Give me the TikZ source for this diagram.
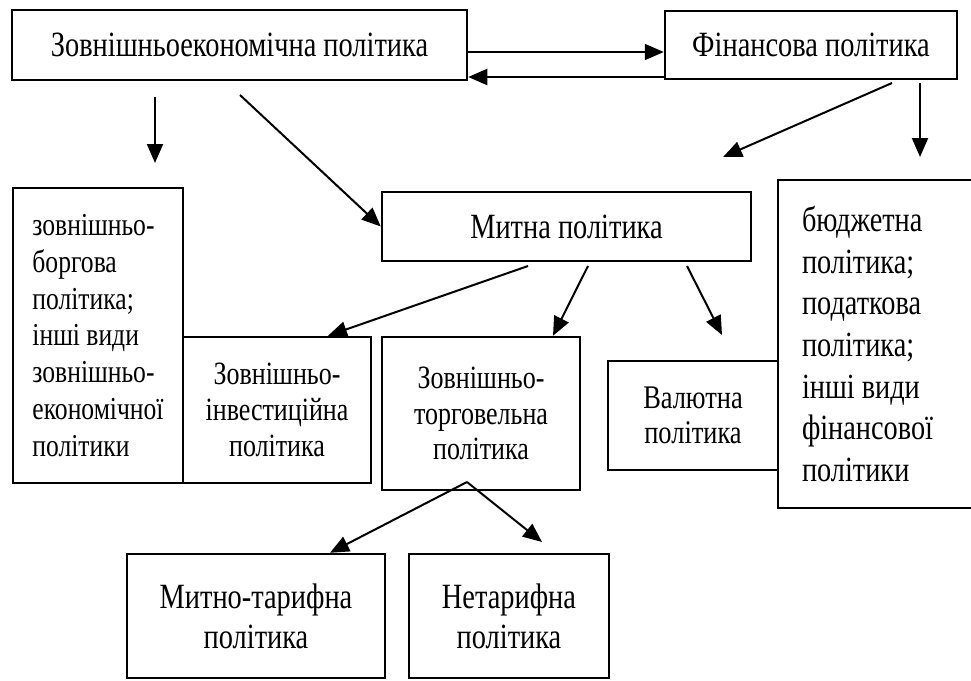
\documentclass[tikz,border=0pt]{standalone}
\usepackage{fontspec}
\setmainfont{Liberation Serif}[FakeStretch=0.8]
\usetikzlibrary{arrows.meta}
\tikzset{
  box/.style={draw, line width=2.5pt, rectangle, inner sep=0pt, align=center},
  arr/.style={line width=2pt, -{Triangle[length=19pt,width=16pt]}},
  bigf/.style={font=\fontsize{35.5}{41.7}\selectfont},
  midf/.style={font=\fontsize{32.5}{35.8}\selectfont},
  valf/.style={font=\fontsize{33}{35.5}\selectfont},
  sidef/.style={font=\fontsize{32}{36.7}\selectfont},
  rightf/.style={font=\fontsize{35.4}{41.7}\selectfont},
  botf/.style={font=\fontsize{35.5}{40}\selectfont},
}
\begin{document}
\begin{tikzpicture}[x=1pt,y=-1pt]
\useasboundingbox (0,0) rectangle (971,680);
% boxes
\node[box, bigf, minimum width=455pt, minimum height=70pt] (zep) at (239.5,45) {Зовнішньоекономічна політика};
\node[box, bigf, minimum width=292pt, minimum height=68pt] (fin) at (811,45) {Фінансова політика};
\node[box, bigf, minimum width=369pt, minimum height=69pt] (mytna) at (566.5,226.5) {Митна політика};
\node[box, sidef, align=left, minimum width=170pt, minimum height=295pt] (left) at (98,335.5) {зовнішньо-\\боргова\\політика;\\інші види\\зовнішньо-\\економічної\\політики};
\node[box, midf, minimum width=188pt, minimum height=146pt] (inv) at (277,410) {Зовнішньо-\\інвестиційна\\політика};
\node[box, midf, minimum width=198pt, minimum height=153pt] (torg) at (481,413.5) {Зовнішньо-\\торговельна\\політика};
\node[box, valf, minimum width=170pt, minimum height=109pt] (val) at (693,415.5) {Валютна\\політика};
\node[box, rightf, align=flush left, text width=152pt, inner xsep=24pt, minimum height=328pt] (right) at (878,344) {бюджетна\\політика;\\податкова\\політика;\\інші види\\фінансової\\політики};
\node[box, botf, minimum width=258pt, minimum height=124pt] (mt) at (256,616) {Митно-тарифна\\політика};
\node[box, botf, minimum width=200pt, minimum height=124pt] (nt) at (509,616) {Нетарифна\\політика};
% free ends
\coordinate (zd1) at (155,97);
\coordinate (zd2) at (155,163);
\coordinate (zm1) at (240,95);
\coordinate (fa1) at (892,83);
\coordinate (fa2) at (723,157);
\coordinate (fb1) at (920,83);
\coordinate (fb2) at (920,157);
\coordinate (m1) at (528,266);
\coordinate (m2) at (588,266);
\coordinate (m3) at (687,266);
\coordinate (m3e) at (722,335);
\coordinate (tb) at (467,482);
\coordinate (tbe) at (542,542);
% connectors
\draw[arr] ([yshift=-7pt]zep.east) -- ([yshift=-7pt]zep.east -| fin.west);
\draw[arr] ([yshift=-32pt]fin.west) -- ([yshift=-32pt]fin.west -| zep.east);
\draw[arr] (zd1) -- (zd2);
\draw[arr] (zm1) -- (mytna.west);
\draw[arr] (fa1) -- (fa2);
\draw[arr] (fb1) -- (fb2);
\draw[arr] (m1) -- ([xshift=51pt]inv.north);
\draw[arr] (m2) -- ([xshift=72pt]torg.north);
\draw[arr] (m3) -- (m3e);
\draw[arr] (tb) -- ([xshift=74pt]mt.north);
\draw[arr] (tb) -- (tbe);
\end{tikzpicture}
\end{document}
